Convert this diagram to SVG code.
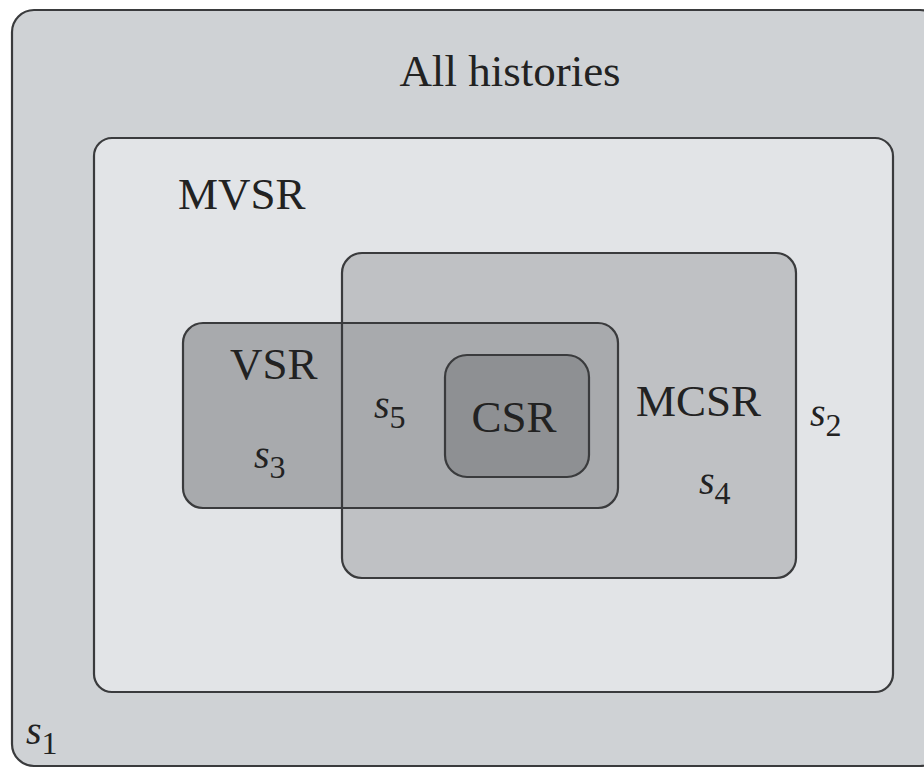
<svg xmlns="http://www.w3.org/2000/svg" width="924" height="768" viewBox="0 0 924 768">
<style>
.box{stroke:#3a3b3d;stroke-width:2.2}
.lbl{font-family:"Liberation Serif",serif;font-size:45px;fill:#222}
.s{font-family:"Liberation Serif",serif;font-size:40px;font-style:italic;fill:#222}
.sub{font-style:normal;font-size:32px}
</style>
<rect width="924" height="768" fill="#ffffff"/>
<g id="all">
<rect class="box" x="12" y="10" width="930" height="756" rx="22" fill="#cfd2d5"/>
<text class="lbl" x="510" y="86" text-anchor="middle">All histories</text>
<text class="s" x="26" y="744">s<tspan class="sub" dy="10">1</tspan></text>
</g>
<g id="mvsr">
<rect class="box" x="94" y="138" width="799" height="554" rx="18" fill="#e2e4e7"/>
<text class="lbl" x="178" y="209">MVSR</text>
<text class="s" x="810" y="426">s<tspan class="sub" dy="10">2</tspan></text>
</g>
<g id="mcsr">
<rect class="box" x="342" y="253" width="454" height="325" rx="20" fill="#bfc1c4"/>
<text class="lbl" x="636" y="416">MCSR</text>
<text class="s" x="699" y="494">s<tspan class="sub" dy="10">4</tspan></text>
</g>
<g id="vsr">
<rect class="box" x="183" y="323" width="435" height="185" rx="20" fill="#a8aaad"/>
<text class="lbl" x="230" y="379">VSR</text>
<text class="s" x="254" y="468">s<tspan class="sub" dy="10">3</tspan></text>
</g>
<g id="connectors">
<line class="box" x1="342" y1="323" x2="342" y2="508" fill="none"/>
</g>
<g id="overlap">
<text class="s" x="374" y="418">s<tspan class="sub" dy="10">5</tspan></text>
</g>
<g id="csr">
<rect class="box" x="445" y="355" width="144" height="122" rx="22" fill="#8e9093"/>
<text class="lbl" x="514" y="432" text-anchor="middle">CSR</text>
</g>
</svg>
